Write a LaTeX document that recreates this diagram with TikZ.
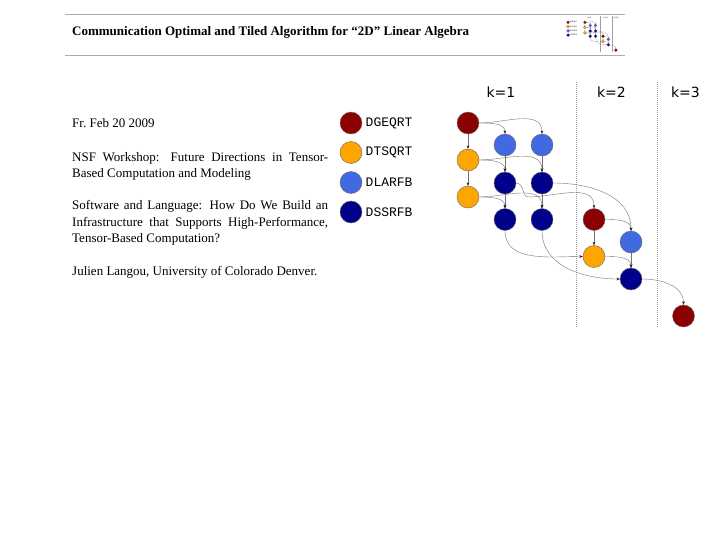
\documentclass[tikz,border=0pt]{standalone}
\usepackage{fontspec}
\setmainfont{Liberation Serif}
\setmonofont{Liberation Mono}
\newfontfamily\ksans{DejaVu Sans}
\usepackage{xcolor}
\usetikzlibrary{arrows.meta,positioning,calc}
\definecolor{qrred}{RGB}{139,0,0}
\definecolor{qrorange}{RGB}{255,165,0}
\definecolor{qrblue}{RGB}{65,105,225}
\definecolor{qrnavy}{RGB}{0,0,139}
\tikzset{
  qrnode/.style={circle, minimum size=22pt, inner sep=0pt, draw=black!60, line width=0.4pt},
  geqrt/.style={qrnode, fill=qrred},
  tsqrt/.style={qrnode, fill=qrorange},
  larfb/.style={qrnode, fill=qrblue},
  ssrfb/.style={qrnode, fill=qrnavy},
  dagedge/.style={-{Stealth[length=3.5pt,width=2.8pt,color=black!85]}, draw=black!55, line width=0.4pt},
  steplabel/.style={font=\ksans\fontsize{14}{16}\selectfont, inner sep=0pt},
  kernlabel/.style={anchor=west, inner sep=0pt, font=\ttfamily\fontsize{13}{15}\selectfont},
  stepsep/.style={gray!75, line width=0.5pt, dash pattern=on 1pt off 1pt},
  headrule/.style={gray!65, line width=1pt},
  bodytext/.style={anchor=north west, inner sep=0pt, text width=256pt, align=justify,
                   font=\fontsize{13}{16.3}\selectfont}
}

% the task graph, drawn twice (slide and thumbnail)
\newcommand\qrdag{%
  % legend
  \node[geqrt] (LG) at (351,-123) {};
  \node[tsqrt] (LT) at (351,-152.5) {};
  \node[larfb] (LL) at (351,-182.5) {};
  \node[ssrfb] (LS) at (351,-212) {};
  \node[kernlabel] (LGt) at (365.5,-123) {DGEQRT};
  \node[kernlabel] (LTt) at (365.5,-152.5) {DTSQRT};
  \node[kernlabel] (LLt) at (365.5,-182.5) {DLARFB};
  \node[kernlabel] (LSt) at (365.5,-212) {DSSRFB};

  % steps
  \node[steplabel] (k1) at (501,-92) {k=1};
  \node[steplabel] (k2) at (611.5,-92) {k=2};
  \node[steplabel] (k3) at (685.5,-92) {k=3};
  \draw[stepsep] (576,-82) -- (576,-327);
  \draw[stepsep] (657,-82) -- (657,-327);

  % k=1
  \node[geqrt] (A1) at (468,-123) {};
  \node[larfb] (B1) at (505,-145) {};
  \node[larfb] (B2) at (542,-145) {};
  \node[tsqrt] (C0) at (468,-160) {};
  \node[ssrfb] (D1) at (505,-183) {};
  \node[ssrfb] (D2) at (542,-183) {};
  \node[tsqrt] (E0) at (468,-197) {};
  \node[ssrfb] (F1) at (505,-219.5) {};
  \node[ssrfb] (F2) at (542,-219.5) {};
  % k=2
  \node[geqrt] (G) at (594,-219.5) {};
  \node[larfb] (H) at (631,-242) {};
  \node[tsqrt] (I) at (594,-256.5) {};
  \node[ssrfb] (J) at (631,-279) {};
  % k=3
  \node[geqrt] (K) at (683.5,-316) {};

  % dependencies
  \draw[dagedge] (A1) -- (C0);
  \draw[dagedge] (C0) -- (E0);
  \draw[dagedge] (B1) -- (D1);
  \draw[dagedge] (B2) -- (D2);
  \draw[dagedge] (D1) -- (F1);
  \draw[dagedge] (D2) -- (F2);
  \draw[dagedge] (G) -- (I);
  \draw[dagedge] (H) -- (J);
  \draw[dagedge] (A1.east) to[out=0,in=90] (B1.north);
  \draw[dagedge] (A1.east) to[out=0,in=90] (B2.north);
  \draw[dagedge] (C0.east) to[out=0,in=90] (D1.north);
  \draw[dagedge] (C0.east) to[out=0,in=90] (D2.north);
  \draw[dagedge] (E0.east) to[out=0,in=90] (F1.north);
  \draw[dagedge] (E0.east) to[out=0,in=90] (F2.north);
  \draw[dagedge] (D1.east) .. controls +(8,0) and +(-6,0) .. ($(D1.east)+(12,-14)$)
                 to[out=0,in=90] (G.north);
  \draw[dagedge] (D2.east) to[out=0,in=90] (H.north);
  \draw[dagedge] (G.east) to[out=0,in=90] (H.north);
  \draw[dagedge] (I.east) to[out=0,in=90] (J.north);
  \draw[dagedge] (F1.south) to[out=-90,in=180] (I.west);
  \draw[dagedge] (F2.south) to[out=-90,in=180] (J.west);
  \draw[dagedge] (J.east) to[out=0,in=90] (K.north);
}

\begin{document}
\begin{tikzpicture}[x=1pt, y=1pt]
  \useasboundingbox (0,0) rectangle (720,-557);

  % header
  \draw[headrule] (65,-14.3) -- (625,-14.3);
  \draw[headrule] (65,-55) -- (625,-55);
  \node[anchor=base west, inner sep=0pt, font=\bfseries\fontsize{13}{15}\selectfont] (title)
    at (72,-35.7) {Communication Optimal and Tiled Algorithm for ``2D'' Linear Algebra};

  % thumbnail
  \begin{scope}[shift={(517.5,-4.6)}, scale=0.144, transform shape, name prefix=t-,
      dagedge/.style={-{Stealth[length=0.8pt,width=0.7pt]}, draw=black!55, line width=0.1pt},
      qrnode/.append style={line width=0.1pt},
      stepsep/.style={gray!75, line width=0.2pt}]
    \qrdag
  \end{scope}

  % slide body
  \node[bodytext] (date) at (72,-116.1) {\strut Fr.\ Feb 20 2009};
  \node[bodytext] (wshop) at (72,-149.6)
    {\strut NSF Workshop:  Future Directions in Tensor-\linebreak Based Computation and Modeling};
  \node[bodytext] (talk) at (72,-198.1)
    {\strut Software and Language: How Do We Build an\linebreak Infrastructure that Supports
     High-Performance,\linebreak Tensor-Based Computation?};
  \node[bodytext] (auth) at (72,-263.6) {\strut Julien Langou, University of Colorado Denver.};

  \qrdag
\end{tikzpicture}
\end{document}
